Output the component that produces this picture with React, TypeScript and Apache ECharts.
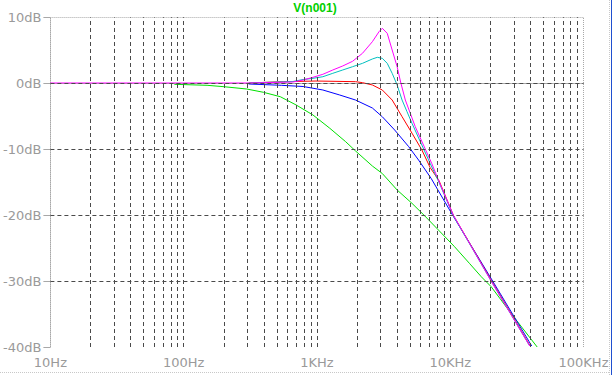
import React, { useEffect, useRef } from "react";
import * as echarts from "echarts";

// ---- data (frequency in Hz, magnitude in dB) ----
const greenFreq = [85.2, 149.8, 200.4, 297, 397, 531, 698, 934, 1249, 1642, 1948, 2606, 3092, 3996, 5164, 6449, 8152, 10772, 13923, 17092, 20280, 28550, 44920];
const greenDb = [-0.2, -0.35, -0.56, -0.91, -1.41, -2.08, -3.33, -4.85, -6.86, -8.89, -10.3, -12.58, -13.71, -16.21, -18.23, -20.15, -22.27, -24.8, -27.32, -29.35, -30.86, -34.89, -40];

const blueFreq = [307, 540, 787, 1108, 1482, 1948, 2606, 3092, 3828, 4882, 5788, 7184, 10409, 20810, 40890];
const blueDb = [-0.15, -0.35, -0.53, -1.06, -1.82, -2.58, -3.79, -5.11, -7.12, -9.65, -11.67, -14.44, -20, -30, -39.85];

const redFreq = [307, 559, 983, 1948, 2196, 2606, 3092, 3667, 4352, 5164, 6128, 7063, 8264, 10590, 20460, 39850];
const redDb = [0, 0.2, 0.3, 0.2, 0.05, -0.3, -1.06, -2.58, -5.1, -7.6, -10.15, -12.8, -14.85, -20.1, -30, -39.85];

const cyanFreq = [307, 663, 787, 934, 1108, 1315, 1561, 1851, 2196, 2606, 2838, 3092, 3368, 3667, 3996, 4352, 4741, 5164, 7063, 8152, 10535, 20280, 39510];
const cyanDb = [0, 0.23, 0.53, 0.71, 0.95, 1.47, 1.97, 2.47, 2.98, 3.64, 3.89, 3.74, 2.98, 1.47, -0.3, -2.58, -4.35, -6.1, -12.17, -14.85, -20.08, -30, -39.85];

const magentaFreq = [10, 307, 663, 787, 934, 1108, 1315, 1561, 1851, 2196, 2606, 2922, 3092, 3368, 3667, 3996, 4243, 4605, 5015, 5464, 7270, 8152, 10535, 20280, 39510];
const magentaDb = [0, 0, 0.15, 0.45, 0.86, 1.32, 1.97, 2.58, 3.29, 4.5, 6.26, 7.77, 8.29, 7.53, 5.0, 2.47, 0.15, -2.58, -4.59, -6.62, -12.2, -14.7, -20, -30, -39.85];

const xDecades = [10, 100, 1000, 10000, 100000];
const xTickLabels = ["10Hz", "100Hz", "1KHz", "10KHz", "100KHz"];
const xGridFreqs = [
  20, 30, 40, 50, 60, 70, 80, 90, 100,
  200, 300, 400, 500, 600, 700, 800, 900, 1000,
  2000, 3000, 4000, 5000, 6000, 7000, 8000, 9000, 10000,
  20000, 30000, 40000, 50000, 60000, 70000, 80000, 90000,
];
const yTicks = [10, 0, -10, -20, -30, -40];
const yTickLabels = ["10dB", "0dB", "-10dB", "-20dB", "-30dB", "-40dB"];
const yGridDb = [0, -10, -20, -30];
const title = "V(n001)";

const zip = (a: number[], b: number[]) => a.map((v, i) => [v, b[i]]);

export default function App() {
  const ref = useRef<HTMLDivElement>(null);
  useEffect(() => {
    const chart = echarts.init(ref.current!, undefined, { renderer: "svg" });
    const labelFont = { fontFamily: "DejaVu Sans", fontSize: 13, color: "#9a9a9a" };
    const traces = [
      { name: "green", color: "#00e000", data: zip(greenFreq, greenDb) },
      { name: "blue", color: "#0000ff", data: zip(blueFreq, blueDb) },
      { name: "red", color: "#ff0000", data: zip(redFreq, redDb) },
      { name: "cyan", color: "#00bfbf", data: zip(cyanFreq, cyanDb) },
      { name: "magenta", color: "#ff00ff", data: zip(magentaFreq, magentaDb) },
    ];
    chart.setOption({
      animation: false,
      backgroundColor: "#ffffff",
      title: {
        text: title,
        left: 310,
        textAlign: "center",
        top: -3,
        textStyle: { fontFamily: "Liberation Sans", fontSize: 12, fontWeight: "bold", color: "#00d000" },
      },
      grid: { left: 44.5, right: 28.5, top: 17, bottom: 28 },
      xAxis: {
        type: "log",
        logBase: 10,
        min: 10,
        max: 100000,
        axisLine: { show: true, lineStyle: { color: "#a8a8a8", width: 1, type: [2, 1] } },
        axisTick: { show: true, length: 4, customValues: xGridFreqs, lineStyle: { color: "#a8a8a8" } },
        minorTick: { show: false },
        splitLine: { show: false },
        axisLabel: {
          ...labelFont,
          margin: 9,
          customValues: xDecades,
          formatter: (v: number) => {
            const i = xDecades.findIndex((d) => Math.abs(d - v) / d < 1e-6);
            return i >= 0 ? xTickLabels[i] : "";
          },
        },
      },
      yAxis: {
        type: "value",
        min: -40,
        max: 10,
        interval: 10,
        axisLine: { show: true, lineStyle: { color: "#a8a8a8", width: 1, type: [1, 1] } },
        axisTick: { show: true, length: 7, lineStyle: { color: "#a8a8a8" } },
        splitLine: { show: false },
        axisLabel: {
          ...labelFont,
          margin: 9,
          formatter: (v: number) => {
            const i = yTicks.indexOf(v);
            return i >= 0 ? yTickLabels[i] : "";
          },
        },
      },
      series: [
        {
          type: "line",
          data: [],
          silent: true,
          markLine: {
            silent: true,
            symbol: "none",
            label: { show: false },
            lineStyle: { color: "#4a4a4a", width: 1, type: [4, 3] },
            data: [
              ...xGridFreqs.map((f) => ({ xAxis: f })),
              ...yGridDb.map((d) => ({ yAxis: d })),
              { yAxis: 10, lineStyle: { color: "#a8a8a8", type: [1, 1] } },
              { xAxis: 100000, lineStyle: { color: "#a8a8a8", type: [1, 1] } },
            ],
          },
        },
        ...traces.map((t) => ({
          type: "line",
          name: t.name,
          data: t.data,
          showSymbol: false,
          symbol: "none",
          smooth: false,
          lineStyle: { color: t.color, width: 1 },
          itemStyle: { color: t.color },
          silent: true,
        })),
      ],
      graphic: [
        { type: "line", shape: { x1: 0, y1: 372.5, x2: 609, y2: 372.5 }, style: { stroke: "#c8c8c8", lineDash: [1, 1] } },
        { type: "line", shape: { x1: 609.5, y1: 0, x2: 609.5, y2: 375 }, style: { stroke: "#c8c8c8", lineDash: [1, 1] } },
        { type: "line", shape: { x1: 611.5, y1: 0, x2: 611.5, y2: 375 }, style: { stroke: "#2050d0" } },
      ],
    });
    return () => chart.dispose();
  }, []);
  return <div ref={ref} style={{ position: "fixed", left: 0, top: 0, width: 612, height: 375 }} />;
}
